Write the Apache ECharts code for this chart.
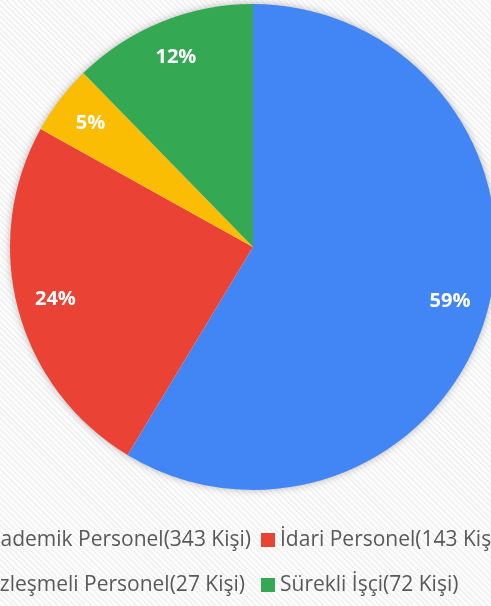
<!DOCTYPE html>
<html>
<head>
<meta charset="utf-8">
<script src="https://cdn.jsdelivr.net/npm/echarts@6/dist/echarts.min.js"></script>
<style>
  html, body { margin: 0; padding: 0; }
  body {
    width: 491px; height: 606px; overflow: hidden;
    background: repeating-linear-gradient(45deg, #f3f3f3 0 2px, #fdfdfd 2px 4px);
  }
  /* wider than the window so the legend can run off both edges, like the original */
  #chart { width: 600px; height: 606px; margin-left: -60px; }
</style>
</head>
<body>
<div id="chart"></div>
<script>
const names = [
  'Akademik Personel(343 Kişi)',
  'İdari Personel(143 Kişi)',
  'Sözleşmeli Personel(27 Kişi)',
  'Sürekli İşçi(72 Kişi)'
]
const values = [343, 143, 27, 72]
const colors = ['#4285f4', '#ea4335', '#fbbc04', '#34a853']

const font = '"Open Sans", sans-serif'
const cx = 313, cy = 247, R = 243

const legendBase = {
  orient: 'horizontal',
  itemWidth: 14,
  itemHeight: 14,
  itemGap: 10,
  icon: 'rect',
  padding: 0,
  textStyle: { fontFamily: font, fontSize: 21, lineHeight: 22, color: '#595959' }
}

const chart = echarts.init(document.getElementById('chart'))
chart.setOption({
  backgroundColor: 'transparent',
  animation: false,
  graphic: [{
    type: 'circle',
    z: 0,
    shape: { cx: cx, cy: cy, r: R - 1 },
    style: { fill: '#ffffff', shadowBlur: 8, shadowColor: 'rgba(0,0,0,0.35)' }
  }],
  legend: [
    Object.assign({}, legendBase, { data: [names[0]], right: 289, top: 529 }),
    Object.assign({}, legendBase, { data: [names[1]], left: 321, top: 529 }),
    Object.assign({}, legendBase, { data: [names[2]], right: 295, top: 574 }),
    Object.assign({}, legendBase, { data: [names[3]], left: 321, top: 574 })
  ],
  series: [
    {
      type: 'pie',
      center: [cx, cy],
      radius: [0, R],
      startAngle: 90,
      clockwise: true,
      label: { show: false },
      labelLine: { show: false },
      emphasis: { disabled: true },
      data: names.map((n, i) => ({ name: n, value: values[i], itemStyle: { color: colors[i] } }))
    },
    {
      // transparent ring, only to place the percentage labels
      type: 'pie',
      center: [cx, cy],
      radius: [160, R],
      startAngle: 90,
      clockwise: true,
      silent: true,
      itemStyle: { color: 'transparent' },
      label: {
        show: true,
        position: 'inside',
        formatter: p => Math.round(p.percent) + '%',
        color: '#ffffff',
        fontFamily: font,
        fontWeight: 'bold',
        fontSize: 20
      },
      labelLine: { show: false },
      data: names.map((n, i) => ({ name: n, value: values[i] }))
    }
  ]
})
</script>
</body>
</html>
